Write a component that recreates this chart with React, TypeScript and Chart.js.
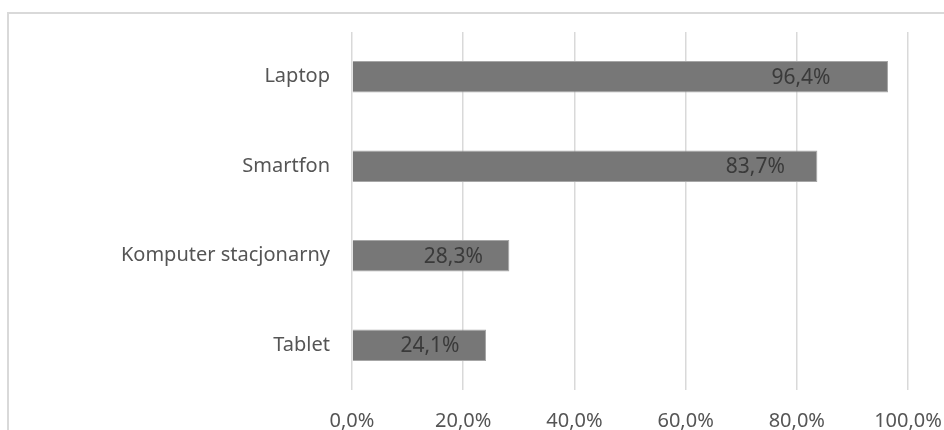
import React, { useEffect, useRef } from "react";
import { Chart, registerables } from "chart.js";

Chart.register(...registerables);

const categories: string[] = ["Laptop", "Smartfon", "Komputer stacjonarny", "Tablet"];
const values: number[] = [96.4, 83.7, 28.3, 24.1];
const xTicks: number[] = [0, 20, 40, 60, 80, 100];
// distance (px) from bar end to the centre of its value label, as placed in the original
const LABEL_INSET: number[] = [87, 62, 56, 56];

const FONT = "'Noto Sans', 'Open Sans', sans-serif";

const fmt = (v: number) => v.toFixed(1).replace(".", ",") + "%";

const frame = {
  id: "frame",
  beforeDraw(chart: any) {
    const ctx = chart.ctx;
    ctx.save();
    ctx.fillStyle = "#ffffff";
    ctx.fillRect(0, 0, chart.width, chart.height);
    ctx.strokeStyle = "#d9d9d9";
    ctx.lineWidth = 2;
    ctx.strokeRect(8, 13, chart.width + 20, chart.height + 20);
    ctx.restore();
  },
};

const valueLabels = {
  id: "valueLabels",
  afterDatasetsDraw(chart: any) {
    const ctx = chart.ctx;
    const meta = chart.getDatasetMeta(0);
    ctx.save();
    ctx.font = `21px ${FONT}`;
    ctx.fillStyle = "#3a3a3a";
    ctx.textAlign = "center";
    ctx.textBaseline = "middle";
    meta.data.forEach((bar: any, i: number) => {
      ctx.fillText(fmt(values[i]), bar.x - LABEL_INSET[i], bar.y + 1);
    });
    ctx.restore();
  },
};

export default function App() {
  const ref = useRef<HTMLCanvasElement | null>(null);

  useEffect(() => {
    if (!ref.current) return;
    const chart = new Chart(ref.current, {
      type: "bar",
      data: {
        labels: categories,
        datasets: [
          {
            data: values,
            backgroundColor: "#777777",
            borderColor: "#a6a6a6",
            borderWidth: 1,
            categoryPercentage: 1,
            barPercentage: 0.35,
          },
        ],
      },
      options: {
        indexAxis: "y",
        animation: false,
        responsive: false,
        maintainAspectRatio: false,
        layout: { padding: { left: 0, right: 36, top: 32, bottom: 0 } },
        plugins: {
          legend: { display: false },
          tooltip: { enabled: false },
          title: { display: false },
        },
        scales: {
          x: {
            type: "linear",
            min: 0,
            max: 100,
            afterBuildTicks: (scale: any) => {
              scale.ticks = xTicks.map((v) => ({ value: v }));
            },
            afterFit: (scale: any) => {
              scale.height = 40;
              scale.paddingLeft = 0;
              scale.paddingRight = 0;
            },
            grid: { color: "#d9d9d9", lineWidth: 1.5, drawTicks: false },
            border: { display: false },
            ticks: {
              padding: 19,
              color: "#555555",
              font: { family: FONT, size: 20 },
              callback: (v: any) => fmt(Number(v)),
              maxRotation: 0,
            },
          },
          y: {
            type: "category",
            offset: true,
            afterFit: (scale: any) => {
              scale.width = 352;
              scale.paddingTop = 0;
              scale.paddingBottom = 0;
            },
            grid: { display: false, drawTicks: false },
            border: { display: false },
            ticks: {
              padding: 22,
              color: "#555555",
              font: { family: FONT, size: 20 },
            },
          },
        },
      },
      plugins: [frame, valueLabels],
    });
    return () => chart.destroy();
  }, []);

  return (
    <div style={{ position: "fixed", left: 0, top: 0, width: 944, height: 430, background: "#fff" }}>
      <canvas ref={ref} width={944} height={430} style={{ display: "block", width: 944, height: 430 }} />
    </div>
  );
}
